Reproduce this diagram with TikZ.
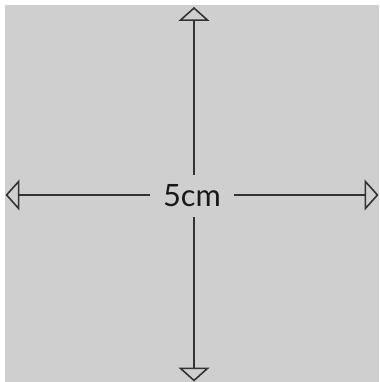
\documentclass[tikz,border=0pt]{standalone}
\usepackage{fontspec}
\setmainfont{Lato}
\usetikzlibrary{arrows.meta}
\definecolor{boardgray}{HTML}{CECFCE}
\definecolor{linegray}{HTML}{333333}

\begin{document}
\begin{tikzpicture}[x=0.02cm, y=0.02cm,
    dimline/.style={draw=linegray, line width=0.9pt, -{Triangle[open, length=0.28cm, width=0.62cm, line width=0.9pt]}},
    sizelabel/.style={text=black!90, font=\fontsize{17.5}{20}\selectfont, inner xsep=0.25cm, inner ysep=0.2cm}]
    \useasboundingbox (0,0) rectangle (379,382);
    % Board
    \fill[boardgray] (5,0) rectangle (379,377);

    % Label in the middle
    \node[sizelabel] (size) at (192,186) {5cm};

    % Arrow ends
    \coordinate (up) at (194,375);
    \coordinate (down) at (194,0.5);
    \coordinate (left) at (5.5,187);
    \coordinate (right) at (378.5,187);

    % Dimension arrows
    \draw[dimline] (size.north -| up) -- (up);
    \draw[dimline] (size.south -| down) -- (down);
    \draw[dimline] (size.west |- left) -- (left);
    \draw[dimline] (size.east |- right) -- (right);
\end{tikzpicture}
\end{document}
